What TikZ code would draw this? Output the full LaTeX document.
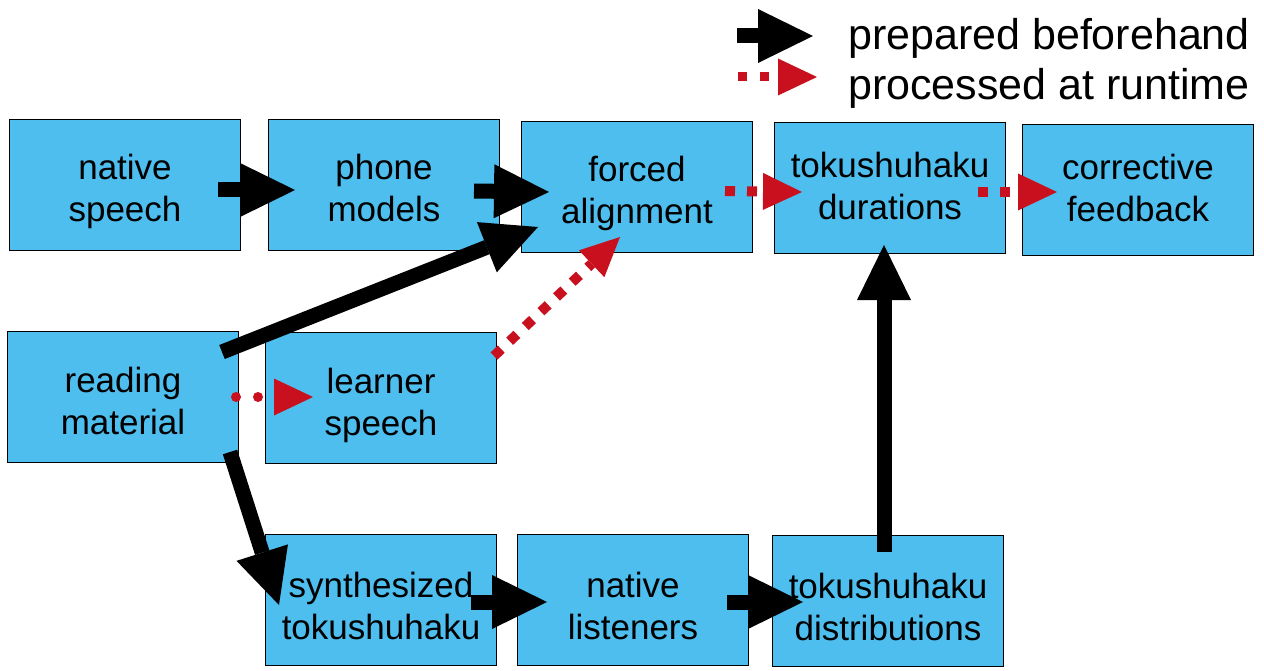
\documentclass[tikz,border=0pt]{standalone}
\usepackage{fontspec}
\setmainfont{Liberation Sans}
\usetikzlibrary{arrows.meta,calc}

\definecolor{boxblue}{RGB}{78,190,238}
\definecolor{runred}{RGB}{200,16,30}

\tikzset{
  box/.style={draw=black, line width=1.8pt, fill=boxblue, minimum width=231pt,
    minimum height=131pt, inner sep=0pt, align=center, text height=74pt,
    text depth=0pt, font=\fontsize{35}{42}\selectfont},
  prep/.style={line width=15pt, -{Triangle[length=55pt,width=54pt,line width=0pt]}},
  run/.style={runred, line width=10pt, dash pattern=on 10pt off 12pt,
    -{Triangle[length=39pt,width=37pt,line width=0pt]}},
  rundot/.style={run, line cap=round, dash pattern=on 0pt off 22pt},
  legend/.style={anchor=base west, inner sep=0pt, font=\fontsize{43}{50}\selectfont},
}

\begin{document}
\begin{tikzpicture}[x=1pt,y=-1pt]
\useasboundingbox (0,0) rectangle (1264,671);

% legend
\coordinate (lp1) at (737,36);
\coordinate (lp2) at (813,36);
\coordinate (lr1) at (738,77);
\coordinate (lr2) at (817,77);
\draw[prep] (lp1) -- (lp2);
\draw[run, line width=9pt, dash pattern=on 9pt off 13pt] (lr1) -- (lr2);
\node[legend] (legprep) at (848,50) {prepared beforehand};
\node[legend] (legrun) at (848,100) {processed at runtime};

% boxes
\node[box] (natsp) at (125,185) {native\\speech};
\node[box] (phone) at (384,185) {phone\\models};
\node[box] (align) at (637,187) {forced\\alignment};
\node[box, text height=64pt] (dur) at (890,188) {tokushuhaku\\durations};
\node[box, text height=64pt] (feedback) at (1138,190) {corrective\\feedback};

\node[box] (reading) at (123,397) {reading\\material};
\node[box] (learner) at (381,398) {learner\\speech};

\node[box, text height=78pt] (synth) at (381,600) {synthesized\\tokushuhaku};
\node[box, text height=78pt] (listen) at (633,600) {native\\listeners};
\node[box, text height=79pt] (distr) at (888,601) {tokushuhaku\\distributions};

% prepared beforehand
\draw[prep] ($(natsp)+(93,5)$) -- ($(phone)+(-89,5)$);
\draw[prep] ($(phone)+(90,6)$) -- ($(align)+(-88,5)$);
\draw[prep] ($(reading)+(99,-45)$) -- ($(align)+(-99,40)$);
\draw[prep] ($(reading)+(107,55)$) -- ($(synth)+(-102,5)$);
\draw[prep] ($(synth)+(90,2)$) -- ($(listen)+(-86,2)$);
\draw[prep] ($(listen)+(94,2)$) -- ($(distr)+(-85,1)$);
\draw[prep] ($(distr)+(-4,-49)$) -- ($(dur)+(-6,57)$);

% processed at runtime
\draw[run] ($(align)+(88,4)$) -- ($(dur)+(-88,4)$);
\draw[run] ($(dur)+(88,4)$) -- ($(feedback)+(-81,2)$);
\draw[rundot] ($(reading)+(113,0)$) -- ($(learner)+(-68,-1)$);
\draw[run, dash pattern=on 10pt off 11.5pt] ($(learner)+(113,-42)$) -- ($(align)+(-17,50)$);
\end{tikzpicture}
\end{document}
